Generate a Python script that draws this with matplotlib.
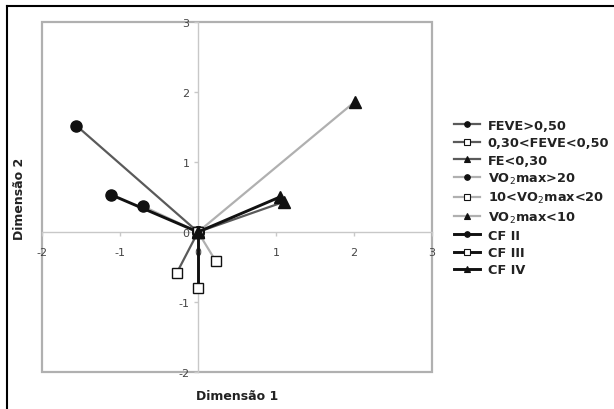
import matplotlib
matplotlib.use("Agg")
import matplotlib.pyplot as plt
from matplotlib.patches import Rectangle
from matplotlib.lines import Line2D

# Data (category coordinates in dimensions 1 and 2)
labels = ["FEVE>0,50", "0,30<FEVE<0,50", "FE<0,30",
          "VO$_2$max>20", "10<VO$_2$max<20", "VO$_2$max<10",
          "CF II", "CF III", "CF IV"]
dim1 = [-1.56, -0.27, 1.10, -0.71, 0.23, 2.01, -1.11, 0.00, 1.05]
dim2 = [1.52, -0.58, 0.43, 0.37, -0.42, 1.86, 0.53, -0.80, 0.50]
xticks = [-2, -1, 0, 1, 2, 3]
yticks = [-2, -1, 0, 1, 2, 3]

line_colors = ["#5a5a5a", "#5a5a5a", "#5a5a5a",
               "#b0b0b0", "#b0b0b0", "#b0b0b0",
               "#111111", "#111111", "#111111"]
markers = ["o", "s", "^", "o", "s", "^", "o", "s", "^"]
mfaces = ["#111111", "white", "#111111"] * 3
msizes = [8, 7, 8] * 3
lws = [1.6, 1.6, 1.6, 1.6, 1.6, 1.6, 2.1, 2.1, 2.1]

fig = plt.figure(figsize=(6.14, 4.10), dpi=100)
ax = fig.add_axes([42/614, 1 - 373/410, 390/614, 350/410])

handles = []
for i in range(len(labels)):
    ax.plot([0, dim1[i]], [0, dim2[i]], color=line_colors[i], lw=lws[i],
            marker=markers[i], ms=msizes[i], mfc=mfaces[i], mec="#111111",
            mew=1.0, zorder=3 + i * 0.1)
    handles.append(Line2D([0], [0], color=line_colors[i], lw=lws[i],
                          marker=markers[i], ms=4, mfc=mfaces[i],
                          mec="#111111", mew=0.8))

ax.set_xlim(-2, 3)
ax.set_ylim(-2, 3)
ax.set_xticks(xticks)
ax.set_yticks(yticks)
ax.set_xticklabels([str(t) for t in xticks])
ax.set_yticklabels([str(t) for t in yticks])

for s in ["left", "bottom"]:
    ax.spines[s].set_position(("data", 0))
    ax.spines[s].set_color("#c8c8c8")
    ax.spines[s].set_linewidth(1.0)
    ax.spines[s].set_zorder(1)
for s in ["top", "right"]:
    ax.spines[s].set_visible(False)

ax.add_patch(Rectangle((0, 0), 1, 1, transform=ax.transAxes, fill=False,
                       edgecolor="#b0b0b0", lw=1.6, clip_on=False, zorder=0.5))

ax.tick_params(axis="both", colors="#c8c8c8", labelcolor="#444444",
               labelsize=8, length=3, width=1, direction="out")
ax.tick_params(axis="x", pad=8)
ax.tick_params(axis="y", pad=3)

fig.text(237/614, 1 - 397/410, "Dimensão 1", ha="center", va="center",
         fontsize=9, fontweight="bold", color="#222222")
fig.text(20/614, 1 - 199/410, "Dimensão 2", ha="center", va="center",
         rotation=90, fontsize=9, fontweight="bold", color="#222222")

fig.legend(handles, labels, loc="upper left",
           bbox_to_anchor=(454/614, 1 - 120/410), frameon=False,
           handlelength=2.0, handletextpad=0.6,
           labelspacing=0.33, borderaxespad=0, borderpad=0,
           prop={"weight": "bold", "size": 9.3})
for t in fig.legends[0].get_texts():
    t.set_color("#222222")

# outer border (top and left)
fig.add_artist(Line2D([7/614, 1], [1 - 7/410, 1 - 7/410],
                      transform=fig.transFigure, color="black", lw=1.5))
fig.add_artist(Line2D([7/614, 7/614], [0, 1 - 7/410],
                      transform=fig.transFigure, color="black", lw=1.5))

fig.savefig("out.png", dpi=100)
